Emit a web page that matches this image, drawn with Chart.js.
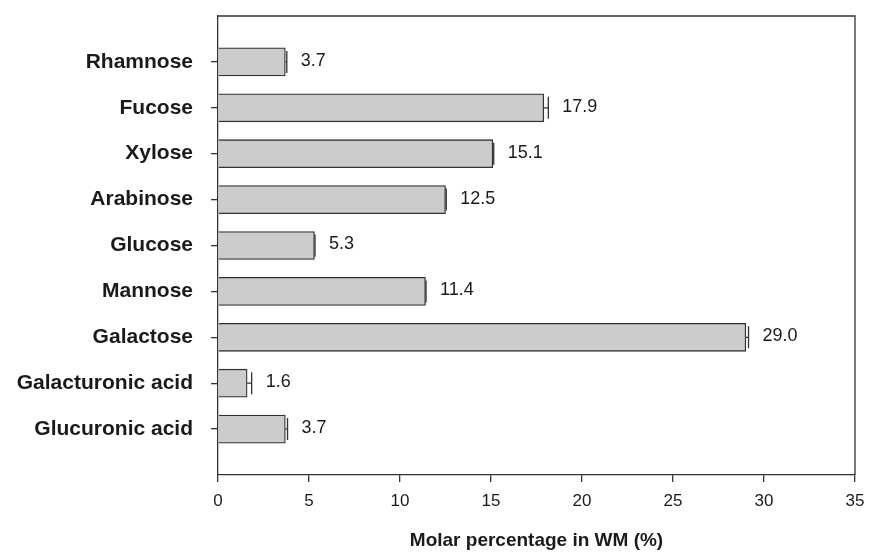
<!DOCTYPE html>
<html>
<head>
<meta charset="utf-8">
<script src="https://cdn.jsdelivr.net/npm/chart.js@4"></script>
<style>
  html, body { margin: 0; padding: 0; background: #fff; }
  #wrap { width: 870px; height: 554px; }
</style>
</head>
<body>
<div id="wrap"><canvas id="sugarChart" width="870" height="554"></canvas></div>
<script>
const sugars = ["Rhamnose", "Fucose", "Xylose", "Arabinose", "Glucose", "Mannose", "Galactose", "Galacturonic acid", "Glucuronic acid"];
const molarPct = [3.7, 17.9, 15.1, 12.5, 5.3, 11.4, 29.0, 1.6, 3.7];
const stdErr = [0.08, 0.25, 0.05, 0.04, 0.03, 0.03, 0.15, 0.25, 0.12];
const xTicks = [0, 5, 10, 15, 20, 25, 30, 35];

// empty slots above and below, like the original plot
const labels = [""].concat(sugars, [""]);
const padded = [null].concat(molarPct, [null]);

const ink = "#333";
const txt = "#1a1a1a";

const framePlugin = {
  id: "frame",
  afterDatasetsDraw(chart) {
    const { ctx, chartArea: a, scales } = chart;
    const x = scales.x, y = scales.y;
    ctx.save();
    ctx.strokeStyle = ink;
    ctx.lineWidth = 1.3;
    // top + right sides of box
    ctx.beginPath();
    ctx.moveTo(a.left, a.top);
    ctx.lineTo(a.right, a.top);
    ctx.lineTo(a.right, a.bottom);
    ctx.stroke();

    // error bars and value labels
    ctx.font = "18px 'Liberation Sans', Arial, sans-serif";
    ctx.fillStyle = txt;
    ctx.textBaseline = "middle";
    ctx.textAlign = "left";
    molarPct.forEach((v, i) => {
      const yc = y.getPixelForValue(i + 1);
      const x0 = x.getPixelForValue(v);
      const x1 = x.getPixelForValue(v + stdErr[i]);
      ctx.beginPath();
      ctx.moveTo(x0, yc);
      ctx.lineTo(x1, yc);
      ctx.moveTo(x1, yc - 11);
      ctx.lineTo(x1, yc + 11);
      ctx.stroke();
      ctx.fillText(v.toFixed(1), x1 + 14, yc - 1);
    });
    ctx.restore();
  }
};

new Chart(document.getElementById("sugarChart"), {
  type: "bar",
  data: {
    labels: labels,
    datasets: [{
      data: padded,
      backgroundColor: "#cccccc",
      borderColor: ink,
      borderWidth: 1.3,
      barThickness: 28
    }]
  },
  options: {
    indexAxis: "y",
    responsive: false,
    animation: false,
    layout: { padding: { top: 16, right: 15, left: 0, bottom: 0 } },
    plugins: { legend: { display: false }, tooltip: { enabled: false } },
    scales: {
      x: {
        type: "linear",
        min: 0,
        max: 35,
        afterBuildTicks: s => { s.ticks = xTicks.map(v => ({ value: v })); },
        afterFit: s => { s.height = 79; s.paddingLeft = 0; s.paddingRight = 0; },
        border: { color: ink, width: 1.3 },
        grid: { drawOnChartArea: false, color: ink, lineWidth: 1.3, tickLength: 7 },
        ticks: {
          color: txt,
          padding: 9,
          font: { family: "'Liberation Sans', Arial, sans-serif", size: 17 }
        },
        title: {
          display: true,
          text: "Molar percentage in WM (%)",
          color: txt,
          padding: { top: 0, bottom: 2 },
          font: { family: "'Liberation Sans', Arial, sans-serif", size: 19, weight: "bold" }
        }
      },
      y: {
        type: "category",
        offset: false,
        afterFit: s => { s.width = 218; s.paddingTop = 0; s.paddingBottom = 0; },
        border: { color: ink, width: 1.3 },
        grid: {
          offset: false,
          drawOnChartArea: false,
          tickLength: 7,
          lineWidth: 1.3,
          color: c => (c.index === 0 || c.index === labels.length - 1) ? "rgba(0,0,0,0)" : ink
        },
        ticks: {
          color: txt,
          padding: 18,
          autoSkip: false,
          font: { family: "'Liberation Sans', Arial, sans-serif", size: 21, weight: "bold" }
        }
      }
    }
  },
  plugins: [framePlugin]
});
</script>
</body>
</html>
